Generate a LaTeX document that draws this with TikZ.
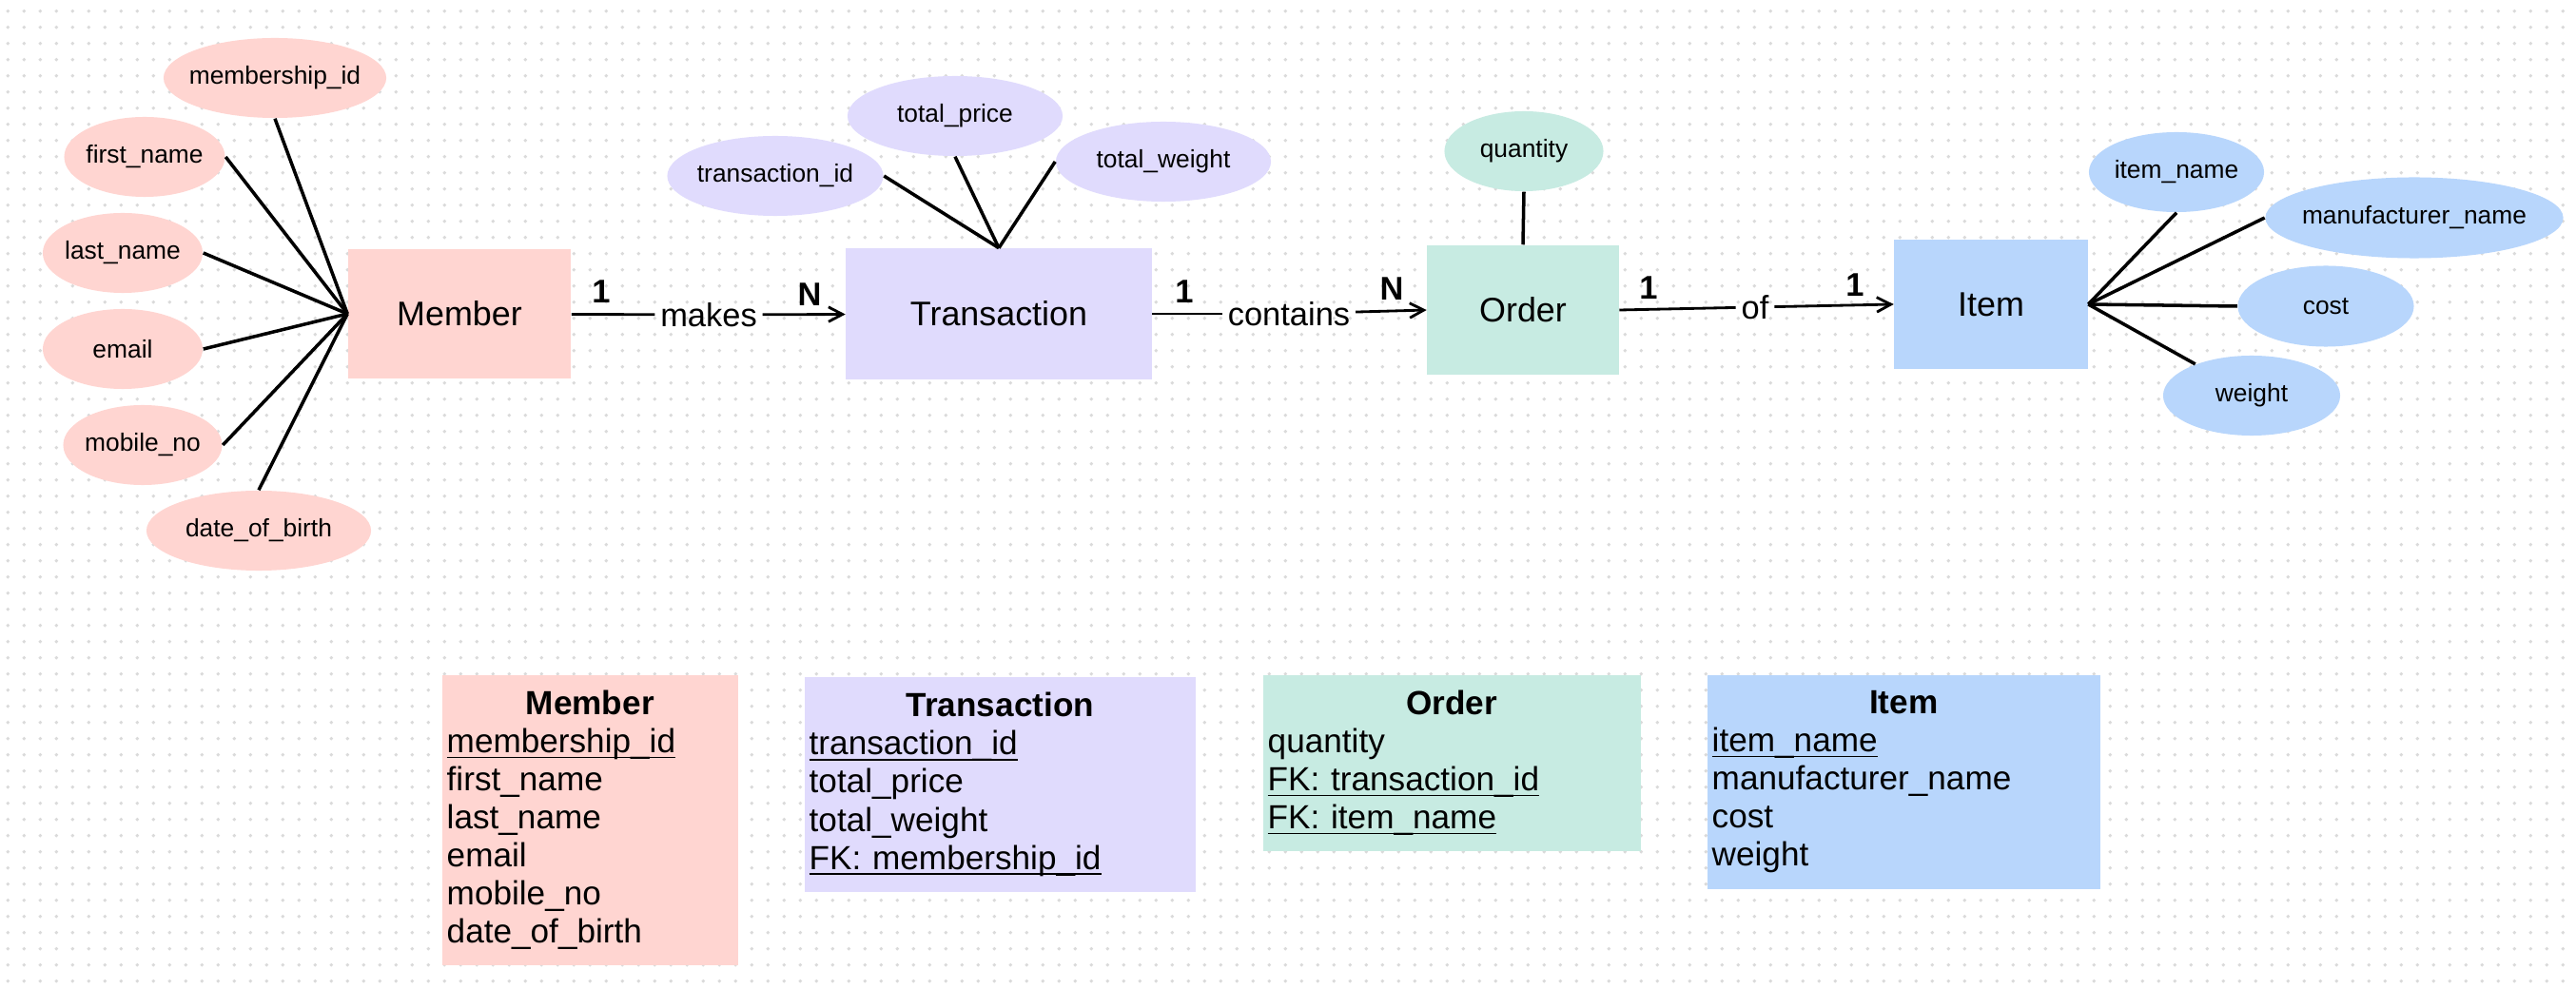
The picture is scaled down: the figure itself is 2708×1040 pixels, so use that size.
\documentclass[tikz,border=0pt]{standalone}
\usepackage{fontspec}
\setmainfont{Liberation Sans}
\usetikzlibrary{arrows.meta, shapes.geometric, patterns}

\definecolor{memberpink}{HTML}{FFD5D1}
\definecolor{transviolet}{HTML}{E0DBFD}
\definecolor{ordermint}{HTML}{C7EBE2}
\definecolor{itemblue}{HTML}{B8D6FC}
\definecolor{dotgray}{HTML}{DADADA}

\pgfdeclarepatternformonly{griddots}{\pgfpointorigin}{\pgfpoint{4.78pt}{4.78pt}}{\pgfpoint{4.78pt}{4.78pt}}%
  {\pgfpathcircle{\pgfpoint{2.39pt}{2.39pt}}{0.55pt}\pgfusepath{fill}}

\newcommand{\keyfield}[1]{\underline{\smash{#1}}}

\tikzset{
  entity/.style={rectangle, inner sep=0pt, font=\fontsize{10.2}{12}\selectfont},
  attr/.style={ellipse, inner sep=0pt, inner xsep=-3mm, minimum height=0.84cm, font=\fontsize{7.5}{9}\selectfont},
  rel/.style={inner sep=1.5pt, font=\fontsize{9.8}{12}\selectfont},
  card/.style={inner sep=0pt, font=\fontsize{9.8}{12}\selectfont\bfseries},
  tbl/.style={rectangle, anchor=north west, inner xsep=0.05cm, inner ysep=0pt, align=left, font=\fontsize{10}{11.38}\selectfont},
  attrline/.style={line width=1pt},
  relline/.style={line width=0.8pt}
}

\begin{document}
\begin{tikzpicture}[x=0.01cm, y=-0.01cm, >={Straight Barb[length=4.2pt, width=4.4pt]}]
  \useasboundingbox (0,0) rectangle (2708,1040);
  \fill[white] (0,0) rectangle (2708,1040);
  \fill[pattern=griddots, pattern color=dotgray] (0,0) rectangle (2708,1040);

  % entities
  \node[entity, fill=memberpink, minimum width=2.34cm, minimum height=1.36cm] (member) at (483,330) {Member};
  \node[entity, fill=transviolet, minimum width=3.21cm, minimum height=1.37cm] (transaction) at (1050,330) {Transaction};
  \node[entity, fill=ordermint, minimum width=2.01cm, minimum height=1.36cm] (order) at (1601,326) {Order};
  \node[entity, fill=itemblue, minimum width=2.03cm, minimum height=1.35cm] (item) at (2093,320) {Item};

  % attributes
  \node[attr, fill=memberpink, minimum width=2.34cm] (membershipid) at (289,82) {membership\_id};
  \node[attr, fill=memberpink, minimum width=1.69cm] (firstname) at (152,165) {first\_name};
  \node[attr, fill=memberpink, minimum width=1.68cm] (lastname) at (129,266) {last\_name};
  \node[attr, fill=memberpink, minimum width=1.68cm] (email) at (129,367) {email};
  \node[attr, fill=memberpink, minimum width=1.67cm] (mobileno) at (150,468) {mobile\_no};
  \node[attr, fill=memberpink, minimum width=2.36cm] (dob) at (272,558) {date\_of\_birth};
  \node[attr, fill=transviolet, minimum width=2.27cm] (transid) at (815,185) {transaction\_id};
  \node[attr, fill=transviolet, minimum width=2.26cm] (totalprice) at (1004,122) {total\_price};
  \node[attr, fill=transviolet, minimum width=2.26cm] (totalweight) at (1223,170) {total\_weight};
  \node[attr, fill=ordermint, minimum width=1.67cm] (quantity) at (1602,159) {quantity};
  \node[attr, fill=itemblue, minimum width=1.84cm] (itemname) at (2288,181) {item\_name};
  \node[attr, fill=itemblue, minimum width=3.13cm, minimum height=0.85cm] (manufacturer) at (2538,229) {manufacturer\_name};
  \node[attr, fill=itemblue, minimum width=1.85cm, minimum height=0.85cm] (cost) at (2445,322) {cost};
  \node[attr, fill=itemblue, minimum width=1.86cm] (weight) at (2367,416) {weight};

  \draw[attrline] (membershipid.south) -- (member.west);
  \draw[attrline] (firstname.east) -- (member.west);
  \draw[attrline] (lastname.east) -- (member.west);
  \draw[attrline] (email.east) -- (member.west);
  \draw[attrline] (mobileno.east) -- (member.west);
  \draw[attrline] (dob.north) -- (member.west);
  \draw[attrline] (transid.east) -- (transaction.north);
  \draw[attrline] (totalprice.south) -- (transaction.north);
  \draw[attrline] (totalweight.west) -- (transaction.north);
  \draw[attrline] (quantity.south) -- (order.north);
  \draw[attrline] (itemname.south) -- (item.east);
  \draw[attrline] (manufacturer.west) -- (item.east);
  \draw[attrline] (cost.west) -- (item.east);
  \draw[attrline] (weight) -- (item.east);

  % relationships
  \node[rel] (makes) at (745,331) {makes};
  \node[rel] (contains) at (1355,330) {contains};
  \node[rel] (of) at (1845,323) {of};
  \draw[relline] (member) -- (makes);
  \draw[relline, ->] (makes) -- (transaction);
  \draw[relline] (transaction) -- (contains);
  \draw[relline, ->] (contains) -- (order.west);
  \draw[relline] (order.east) -- (of);
  \draw[relline, ->] (of) -- (item.west);

  \node[card] (c1) at (632,307) {1};
  \node[card] (c2) at (851,310) {N};
  \node[card] (c3) at (1245,307) {1};
  \node[card] (c4) at (1463,304) {N};
  \node[card] (c5) at (1733,303) {1};
  \node[card] (c6) at (1950,300) {1};

  % tables
  \node[tbl, fill=memberpink, text width=3.01cm, minimum height=3.05cm] (membertbl) at (464,709)
    {\makebox[\linewidth]{\textbf{Member}}\\ \keyfield{membership\_id}\\ first\_name\\ last\_name\\ email\\ mobile\_no\\ date\_of\_birth};
  \node[tbl, fill=transviolet, text width=4.01cm, minimum height=2.26cm] (transtbl) at (845,711)
    {\makebox[\linewidth]{\textbf{Transaction}}\\ \keyfield{transaction\_id}\\ total\_price\\ total\_weight\\ \keyfield{FK: membership\_id}};
  \node[tbl, fill=ordermint, text width=3.87cm, minimum height=1.85cm] (ordertbl) at (1327,709)
    {\makebox[\linewidth]{\textbf{Order}}\\ quantity\\ \keyfield{FK: transaction\_id}\\ \keyfield{FK: item\_name}};
  \node[tbl, fill=itemblue, text width=4.03cm, minimum height=2.25cm] (itemtbl) at (1794,709)
    {\makebox[\linewidth]{\textbf{Item}}\\ \keyfield{item\_name}\\ manufacturer\_name\\ cost\\ weight};
\end{tikzpicture}
\end{document}
